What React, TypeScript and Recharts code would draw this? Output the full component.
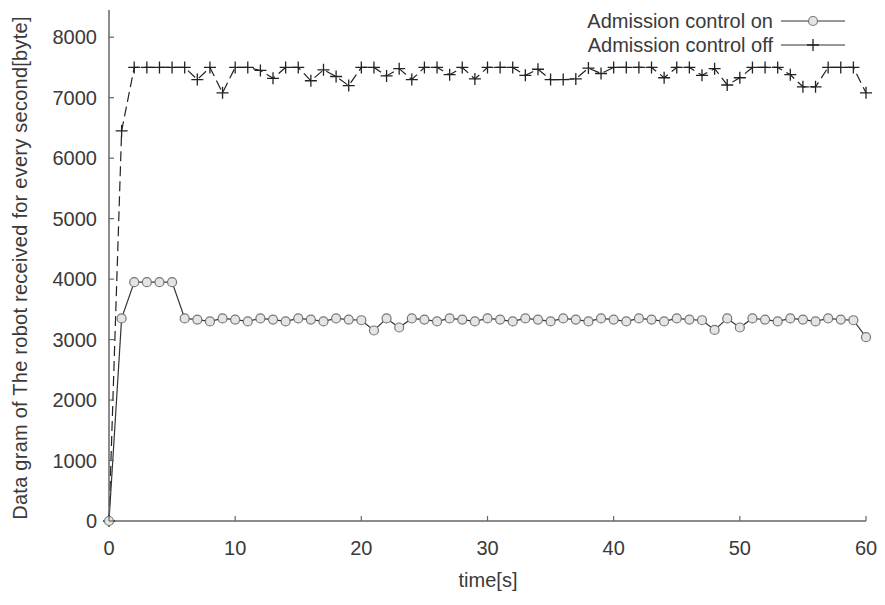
import React from "react"
import { Line, LineChart, XAxis, YAxis } from "recharts"

const times = [
  0, 1, 2, 3, 4, 5, 6, 7, 8, 9, 10, 11, 12, 13, 14, 15, 16, 17, 18, 19, 20,
  21, 22, 23, 24, 25, 26, 27, 28, 29, 30, 31, 32, 33, 34, 35, 36, 37, 38, 39, 40,
  41, 42, 43, 44, 45, 46, 47, 48, 49, 50, 51, 52, 53, 54, 55, 56, 57, 58, 59, 60,
]

// Admission control on (bytes per second)
const onValues = [
  0, 3350, 3950, 3950, 3950, 3950, 3350, 3330, 3300, 3350, 3330,
  3300, 3350, 3330, 3300, 3350, 3330, 3300, 3350, 3330, 3320,
  3150, 3350, 3200, 3350, 3330, 3300, 3350, 3330, 3300, 3350,
  3330, 3300, 3350, 3330, 3300, 3350, 3330, 3300, 3350, 3330,
  3300, 3350, 3330, 3300, 3350, 3330, 3320, 3160, 3350, 3200,
  3350, 3330, 3300, 3350, 3330, 3300, 3350, 3330, 3320, 3040,
]

// Admission control off (bytes per second)
const offValues = [
  0, 6450, 7500, 7500, 7500, 7500, 7500, 7300, 7500, 7080, 7500,
  7500, 7450, 7320, 7500, 7500, 7280, 7460, 7350, 7200, 7500,
  7500, 7360, 7480, 7300, 7500, 7500, 7380, 7500, 7310, 7500,
  7500, 7500, 7370, 7470, 7300, 7300, 7310, 7490, 7400, 7500,
  7500, 7500, 7500, 7330, 7500, 7500, 7370, 7480, 7210, 7330,
  7500, 7500, 7500, 7380, 7180, 7180, 7500, 7500, 7500, 7080,
]

const xTicks = [0, 10, 20, 30, 40, 50, 60]
const yTicks = [0, 1000, 2000, 3000, 4000, 5000, 6000, 7000, 8000]

const seriesLabels = ["Admission control on", "Admission control off"]

const data = times.map((t, i) => ({ t, on: onValues[i], off: offValues[i] }))

const FONT = "'Liberation Sans', Arial, sans-serif"
const TEXT = "#3a3a3a"
const FRAME = "#666"
const FS = 20

const LeftTick = (props: any) => {
  const { x, y, payload } = props
  return (
    <g>
      <line x1={x} x2={x + 5} y1={y} y2={y} stroke={FRAME} strokeWidth={1.2} />
      <text x={x - 12} y={y} dy="0.35em" textAnchor="end" fontSize={FS} fill={TEXT} fontFamily={FONT}>
        {payload.value}
      </text>
    </g>
  )
}

const RightTick = (props: any) => {
  const { x, y } = props
  return <line x1={x} x2={x - 5} y1={y} y2={y} stroke={FRAME} strokeWidth={1.2} />
}

const BottomTick = (props: any) => {
  const { x, y, payload } = props
  return (
    <g>
      <line x1={x} x2={x} y1={y} y2={y - 5} stroke={FRAME} strokeWidth={1.2} />
      <text x={x} y={y + 27} dy="0.35em" textAnchor="middle" fontSize={FS} fill={TEXT} fontFamily={FONT}>
        {payload.value}
      </text>
    </g>
  )
}

const TopTick = (props: any) => {
  const { x, y } = props
  return <line x1={x} x2={x} y1={y} y2={y + 5} stroke={FRAME} strokeWidth={1.2} />
}

const PlusDot = (props: any) => {
  const { cx, cy, index } = props
  if (cx == null || cy == null) return <g key={index} />
  return (
    <path
      key={index}
      d={`M${cx - 6},${cy}H${cx + 6}M${cx},${cy - 6}V${cy + 6}`}
      stroke="#222"
      strokeWidth={1.3}
      fill="none"
    />
  )
}

const LegendBox = () => (
  <div style={{ position: "absolute", top: 9, right: 38, fontFamily: FONT, fontSize: FS, color: TEXT }}>
    {seriesLabels.map((label, i) => (
      <div key={label} style={{ display: "flex", alignItems: "center", justifyContent: "flex-end", height: 24 }}>
        <span style={{ lineHeight: "24px" }}>{label}</span>
        <svg width={70} height={24} style={{ marginLeft: 4 }}>
          <line x1={4} x2={68} y1={12} y2={12} stroke="#333" strokeWidth={1.2} />
          {i === 0 ? (
            <circle cx={36} cy={12} r={4.5} fill="#e4e4e4" stroke="#777" strokeWidth={1.2} />
          ) : (
            <path d="M30,12H42M36,6V18" stroke="#222" strokeWidth={1.3} />
          )}
        </svg>
      </div>
    ))}
  </div>
)

export default function App() {
  return (
    <div style={{ position: "absolute", left: 0, top: 0, width: 885, height: 605, background: "#fff" }}>
      <LineChart
        width={885}
        height={605}
        data={data}
        margin={{ top: 10, right: 19, left: 49, bottom: 54 }}
      >
        <XAxis
          dataKey="t"
          type="number"
          domain={[0, 60]}
          ticks={xTicks}
          height={30}
          tickSize={0}
          tickMargin={0}
          tickLine={false}
          axisLine={{ stroke: FRAME, strokeWidth: 1.5 }}
          tick={<BottomTick />}
        />
        <XAxis
          xAxisId="top"
          orientation="top"
          dataKey="t"
          type="number"
          domain={[0, 60]}
          ticks={xTicks}
          height={0}
          tickSize={0}
          tickMargin={0}
          tickLine={false}
          axisLine={{ stroke: FRAME, strokeWidth: 1.5 }}
          tick={<TopTick />}
        />
        <YAxis
          type="number"
          domain={[0, 8450]}
          ticks={yTicks}
          width={60}
          tickSize={0}
          tickMargin={0}
          tickLine={false}
          axisLine={{ stroke: FRAME, strokeWidth: 1.5 }}
          tick={<LeftTick />}
        />
        <YAxis
          yAxisId="right"
          orientation="right"
          type="number"
          domain={[0, 8450]}
          ticks={yTicks}
          width={0}
          tickSize={0}
          tickMargin={0}
          tickLine={false}
          axisLine={{ stroke: FRAME, strokeWidth: 1.5 }}
          tick={<RightTick />}
        />
        {/* invisible series so the mirrored frame axes get drawn */}
        <Line
          xAxisId="top"
          yAxisId="right"
          dataKey="off"
          stroke="none"
          dot={false}
          activeDot={false}
          legendType="none"
          isAnimationActive={false}
        />
        <Line
          dataKey="off"
          name={seriesLabels[1]}
          type="linear"
          stroke="#222"
          strokeWidth={1.2}
          strokeDasharray="10 5"
          dot={<PlusDot />}
          activeDot={false}
          isAnimationActive={false}
        />
        <Line
          dataKey="on"
          name={seriesLabels[0]}
          type="linear"
          stroke="#333"
          strokeWidth={1.2}
          dot={{ r: 4.5, fill: "#e4e4e4", stroke: "#777", strokeWidth: 1.2 }}
          activeDot={false}
          isAnimationActive={false}
        />
      </LineChart>
      <LegendBox />
      <div
        style={{
          position: "absolute",
          left: 20,
          top: 268,
          transform: "translate(-50%, -50%) rotate(-90deg)",
          whiteSpace: "nowrap",
          fontFamily: FONT,
          fontSize: FS,
          letterSpacing: 0.25,
          color: TEXT,
        }}
      >
        Data gram of The robot received for every second[byte]
      </div>
      <div
        style={{
          position: "absolute",
          left: 488,
          top: 580,
          transform: "translate(-50%, -50%)",
          whiteSpace: "nowrap",
          fontFamily: FONT,
          fontSize: FS,
          color: TEXT,
        }}
      >
        time[s]
      </div>
    </div>
  )
}
